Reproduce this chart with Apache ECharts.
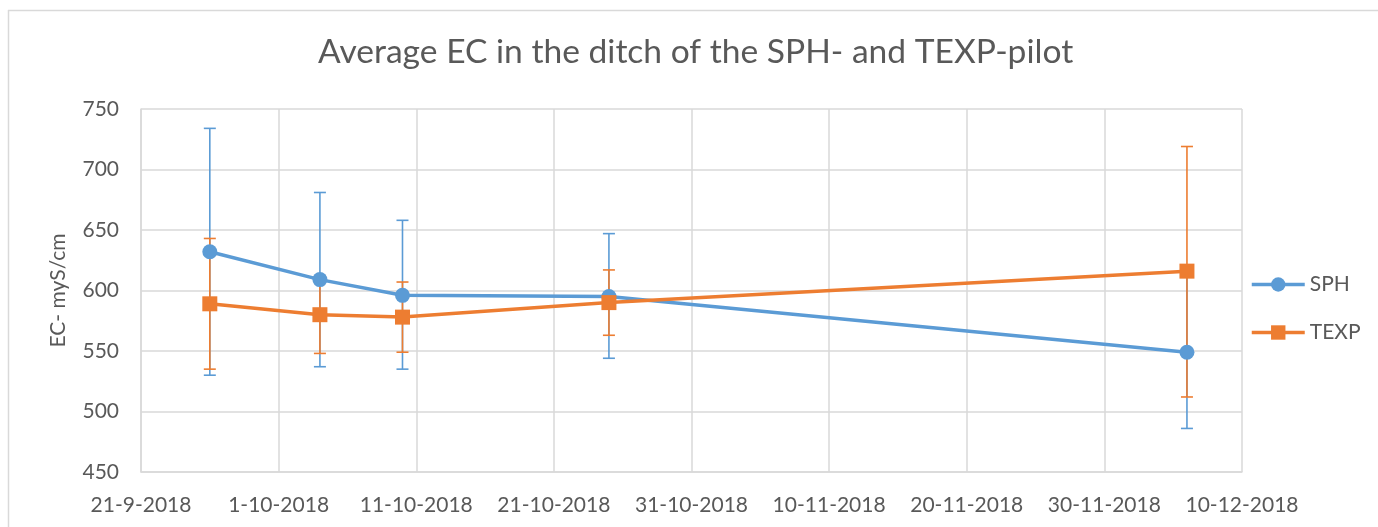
<!DOCTYPE html>
<html>
<head>
<meta charset="utf-8">
<title>Average EC in the ditch</title>
<script src="https://cdn.jsdelivr.net/npm/echarts@6/dist/echarts.min.js"></script>
<style>
    html, body { margin: 0; padding: 0; background: #fff; }
    #main { width: 1378px; height: 527px; }
</style>
</head>
<body>
<div id="main"></div>
<script>
    // axis start and sample dates
    const startDate = '2018-09-21';
    const axisDays = 80;
    const sampleDates = ['2018-09-26', '2018-10-04', '2018-10-10', '2018-10-25', '2018-12-06'];

    // SPH pilot: mean and error bar ends
    const sphMean = [632, 609, 596, 595, 549];
    const sphLow = [530, 537, 535, 544, 486];
    const sphHigh = [734, 681, 658, 647, 612];

    // TEXP pilot
    const texpMean = [589, 580, 578, 590, 616];
    const texpLow = [535, 548, 549, 563, 512];
    const texpHigh = [643, 612, 607, 617, 719];

    const textColor = '#595959';
    const gridColor = '#d9d9d9';
    const font = 'Lato';

    const DAY = 86400000;
    const t0 = Date.parse(startDate);
    const dayOf = d => (Date.parse(d) - t0) / DAY;
    const xs = sampleDates.map(dayOf);

    function dateLabel(v) {
        const d = new Date(t0 + v * DAY);
        return d.getUTCDate() + '-' + (d.getUTCMonth() + 1) + '-' + d.getUTCFullYear();
    }

    function errBar(color) {
        return function (params, api) {
            const x = api.value(0);
            const lo = api.coord([x, api.value(1)]);
            const hi = api.coord([x, api.value(2)]);
            const w = 6;
            const style = {stroke: color, lineWidth: 1.6};
            return {
                type: 'group',
                children: [
                    {type: 'line', shape: {x1: hi[0], y1: hi[1], x2: lo[0], y2: lo[1]}, style: style},
                    {type: 'line', shape: {x1: hi[0] - w, y1: hi[1], x2: hi[0] + w, y2: hi[1]}, style: style},
                    {type: 'line', shape: {x1: lo[0] - w, y1: lo[1], x2: lo[0] + w, y2: lo[1]}, style: style}
                ]
            };
        };
    }

    const chart = echarts.init(document.getElementById('main'));
    chart.setOption({
        animation: false,
        color: ['#5B9BD5', '#ED7D31'],
        textStyle: {fontFamily: font},
        title: {
            text: 'Average EC in the ditch of the SPH- and TEXP-pilot',
            left: 318,
            top: 35,
            padding: 0,
            textStyle: {fontFamily: font, fontSize: 33.6, fontWeight: 'normal', color: textColor}
        },
        graphic: [
            {type: 'line', shape: {x1: 8, y1: 10.5, x2: 1378, y2: 10.5}, style: {stroke: gridColor, lineWidth: 1.5}},
            {type: 'line', shape: {x1: 8.5, y1: 10, x2: 8.5, y2: 527}, style: {stroke: gridColor, lineWidth: 1.5}}
        ],
        legend: {
            orient: 'vertical',
            left: 1250,
            top: 274,
            padding: 0,
            itemWidth: 53,
            itemHeight: 18,
            itemGap: 27,
            data: ['SPH', 'TEXP'],
            lineStyle: {width: 3.5},
            textStyle: {fontFamily: font, fontSize: 21, color: textColor}
        },
        grid: {left: 141, right: 136, top: 109, bottom: 55},
        xAxis: {
            type: 'value',
            min: 0,
            max: axisDays,
            interval: 10,
            axisLine: {show: true, lineStyle: {color: gridColor, width: 1.5}},
            axisTick: {show: false},
            splitLine: {show: true, lineStyle: {color: gridColor, width: 1.5}},
            axisLabel: {
                formatter: dateLabel,
                fontFamily: font,
                fontSize: 21,
                color: textColor,
                margin: 23
            }
        },
        yAxis: {
            type: 'value',
            min: 450,
            max: 750,
            interval: 50,
            name: 'EC- myS/cm',
            nameLocation: 'middle',
            nameGap: 72,
            nameMoveOverlap: false,
            nameTextStyle: {fontFamily: font, fontSize: 21, color: textColor},
            axisLine: {show: true, lineStyle: {color: gridColor, width: 1.5}},
            axisTick: {show: false},
            splitLine: {show: true, lineStyle: {color: gridColor, width: 1.5}},
            axisLabel: {fontFamily: font, fontSize: 21, color: textColor, margin: 22}
        },
        series: [
            {
                name: 'SPH err',
                type: 'custom',
                z: 1,
                renderItem: errBar('#5B9BD5'),
                encode: {x: 0, y: [1, 2]},
                data: xs.map((x, i) => [x, sphLow[i], sphHigh[i]])
            },
            {
                name: 'TEXP err',
                type: 'custom',
                z: 1,
                renderItem: errBar('#ED7D31'),
                encode: {x: 0, y: [1, 2]},
                data: xs.map((x, i) => [x, texpLow[i], texpHigh[i]])
            },
            {
                name: 'SPH',
                type: 'line',
                z: 3,
                symbol: 'circle',
                symbolSize: 15,
                lineStyle: {width: 3.5},
                itemStyle: {color: '#5B9BD5'},
                data: xs.map((x, i) => [x, sphMean[i]])
            },
            {
                name: 'TEXP',
                type: 'line',
                z: 4,
                symbol: 'rect',
                symbolSize: 15,
                lineStyle: {width: 3.5},
                itemStyle: {color: '#ED7D31'},
                data: xs.map((x, i) => [x, texpMean[i]])
            }
        ]
    });
</script>
</body>
</html>
